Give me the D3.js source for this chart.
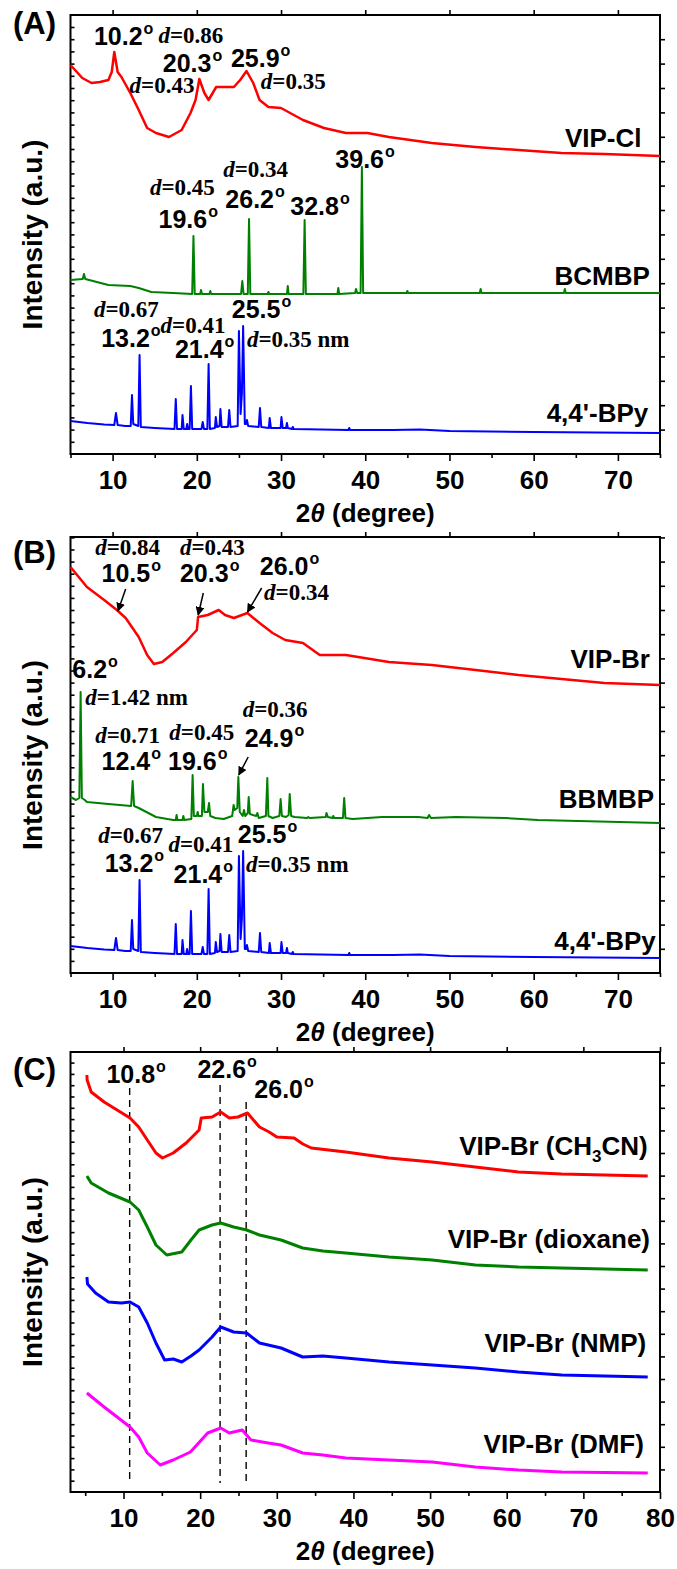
<!DOCTYPE html>
<html lang="en">
<head>
<meta charset="UTF-8" />
<title>XRD patterns</title>
<script src="https://d3js.org/d3.v7.min.js"></script>
<style>
  body { margin: 0; background: #fff; }
  svg text { font-family: 'Liberation Sans', Arial, sans-serif; font-weight: bold; fill: #000; }
  .dlab { font-family: 'Liberation Serif', 'Times New Roman', serif; font-size: 23px; }
  .ang { font-size: 25px; }
  .name { font-size: 26px; }
  .trace { fill: none; stroke-linejoin: round; }
  .frame { fill: none; stroke: #000; stroke-width: 2; }
  .axis path { display: none; }
  .axis line { stroke: #000; stroke-width: 1.6; }
  .axis text { font-size: 26px; }
</style>
</head>
<body>
<svg id="chart" width="677" height="1569"></svg>
<script>
// ---- panel A : VIP-Cl / BCMBP / 4,4'-BPy ----
const vipCl = [[5,389],[6.4,376],[7.5,371],[8.5,372],[9.5,374],[9.9,382],[10.2,402],[10.6,382],[11.05,377],[12.1,361],[13.1,344],[14.1,326],[15.15,321],[16.7,317],[18.2,324],[19.25,341],[19.85,354],[20.3,375],[20.9,361],[21.4,354],[22.3,367],[23.35,367],[24.4,367],[25.15,374],[25.9,383],[26.7,371],[27.45,354],[28.5,347],[30,346],[32.6,334],[35.1,326],[37.7,321],[40.25,321],[42.8,317],[47.9,311],[53.1,307],[58.2,304],[63.3,301],[68.4,300],[75,298]];
const bcmbp = [[5,174],[6.45,175],[6.6,180],[6.75,175],[9.5,169],[12.1,168],[13.1,166],[14.6,162],[17.2,161],[19.45,160],[19.6,218],[19.75,160],[20.4,160],[20.5,164],[20.6,160],[21.5,160],[21.6,163],[21.7,160],[25.25,160],[25.4,173],[25.55,160],[26.05,160],[26.2,235],[26.35,160],[28.4,160],[28.5,162],[28.6,160],[30.7,160],[30.8,168],[30.9,160],[32.65,160],[32.8,234],[32.95,160],[36.7,160],[36.8,166],[36.9,160],[38.8,161],[38.9,165],[39.05,161],[39.45,161],[39.6,287],[39.75,161],[44.9,161],[45,163],[45.1,161],[53.6,161],[53.7,165],[53.8,161],[63.6,161],[63.7,165],[63.8,161],[75,161]];
const bpy = [[5,33],[7,31],[9,29.5],[10.2,29],[10.4,41],[10.6,29],[11.5,28],[12.15,28],[12.3,59],[12.45,30],[13.05,28],[13.2,99],[13.35,27],[15,26],[17.35,25],[17.5,55],[17.65,25],[18.2,25],[18.3,39],[18.45,25],[18.75,25],[18.85,30],[18.95,25],[19.15,25],[19.3,68],[19.45,25],[20.55,25],[20.7,32],[20.85,25],[21.25,25],[21.4,90],[21.55,25],[22.15,26],[22.25,37],[22.4,27],[22.7,28],[22.8,45],[22.95,27],[23.7,27],[23.85,44],[24,27],[24.85,28],[25,123],[25.2,40],[25.35,60],[25.5,128],[25.7,30],[25.85,30],[25.95,34],[26.1,28],[27.35,27],[27.5,46],[27.65,27],[28.55,26],[28.65,36],[28.8,26],[29.95,26],[30.05,37],[30.2,26],[30.6,26],[30.7,31],[30.8,26],[31.3,25],[31.4,27],[31.5,25],[38,24],[38.1,26],[38.2,24],[43.3,24],[46.5,24.5],[50,23],[60,22],[75,21]];
const bpyShiftB = -11;

// ---- panel B : VIP-Br / BBMBP ----
const vipBr = [[5,401],[6.95,381],[9,368],[10.5,358],[11.55,350],[13.1,331],[14.1,313],[14.9,304],[15.9,306],[17.2,315],[18.7,326],[20,338],[20.15,351],[21.3,353],[22.6,358],[23.35,353],[24.4,350],[26,355],[27.45,345],[29,335],[30.5,328],[32.6,325],[34.6,313],[37.7,313],[42.8,306],[47.9,303],[53.1,298],[58.2,293],[63.3,289],[68.4,285],[75,283]];
const bbmbp = [[5,171],[5.65,168],[6.05,170],[6.2,276],[6.35,170],[6.7,168],[6.95,166],[9.5,164],[12.2,162],[12.38,187],[12.55,162],[13.1,160],[15.15,151],[17.2,148],[17.5,148],[17.6,153],[17.7,148],[18.3,148],[18.4,152],[18.5,148],[19.35,149],[19.5,193],[19.65,152],[20,152],[20.1,156],[20.2,152],[20.6,152],[20.73,184],[20.9,156],[21.3,156],[21.45,165],[21.6,152],[22.2,150],[23.2,149],[24.2,152],[24.37,163],[24.5,158],[24.8,160],[24.93,191],[25.1,156],[25.45,152],[25.6,158],[25.75,152],[26.05,155],[26.16,171],[26.3,154],[27.05,152],[27.19,155],[27.35,150],[28.2,152],[28.37,190],[28.5,152],[29,150],[29.8,152],[29.95,169],[30.1,152],[30.6,151],[30.9,153],[31.03,174],[31.2,152],[31.6,151],[33.1,150],[33.23,151],[33.4,150],[35.3,151],[35.4,155],[35.55,151],[36.1,150],[36.2,152],[36.3,150],[37.35,150],[37.5,170],[37.65,150],[38.5,149],[42,151],[44.25,151],[46.3,151],[47.4,150],[47.58,153],[47.8,150],[50.76,151],[56.65,150],[60.5,148],[75,145]];

// ---- panel C : VIP-Br from different solvents ----
const brCH3CN = [[5.22,417],[5.25,412],[5.78,400],[7.47,390],[9.16,382],[10.85,374],[11.98,365],[13.1,352],[14.23,339],[15.07,334],[16.48,339],[18.17,349],[19.86,362],[20.14,374],[21.55,375],[22.68,380],[23.8,374],[24.93,375],[26.17,379],[27.74,365],[29,360],[30,355],[32.25,354],[33.4,348],[34.5,344],[36.75,342],[39,340],[44.64,334],[50.27,330],[55.9,325],[61.53,320],[67.16,318],[72.8,317],[78.4,316]];
const brDioxane = [[5.22,316],[5.78,309],[8.04,299],[10.85,290],[11.98,282],[13.1,265],[14.23,247],[15.64,237],[17.6,240],[18.8,252],[19.86,262],[21.55,267],[22.68,269],[24.37,265],[26.06,262],[27.74,257],[30.56,252],[33.37,244],[36,241],[39,239],[44.64,235],[50.27,232],[55.9,227],[61.53,225],[67.16,224],[78.4,222]];
const brNMP = [[5.22,215],[5.3,208],[6.35,199],[8.04,190],[9.72,189],[10.85,190],[11.98,185],[13.1,169],[14.23,149],[15.36,132],[16.5,133],[17.6,130],[18.8,136],[19.86,142],[21.55,155],[22.68,165],[24.37,160],[26.06,159],[27.74,149],[30.56,144],[33.37,135],[36,136],[39,134],[44.64,130],[50.27,127],[55.9,124],[61.53,120],[67.16,117],[78.4,115]];
const brDMF = [[5.22,99],[7.47,85],[9.16,75],[10.85,65],[11.98,55],[13.1,39],[14.79,27],[16.48,32],[18.73,40],[20.98,59],[22.68,64],[23.8,59],[25.49,62],[26.62,52],[28.87,49],[30.56,47],[33.37,39],[36,37],[39,34],[44.64,32],[50.27,30],[55.9,25],[61.53,22],[67.16,20],[78.4,19]];

// ---- labels: [2theta, intensity, text] ----
const angleLabelsA = [[7.78,409,"10.2"],[15.96,382,"20.3"],[24.05,387,"25.9"],[36.45,286,"39.6"],[15.45,226,"19.6"],[23.39,246,"26.2"],[31.1,239,"32.8"],[8.64,107,"13.2"],[17.4,96,"21.4"],[24.15,136,"25.5"]];
const dLabelsA = [[15.45,411,"0.86"],[12.02,361,"0.43"],[27.6,365,"0.35"],[23.14,277,"0.34"],[14.43,259,"0.45"],[7.78,137,"0.67"],[15.7,121,"0.41"],[25.95,107,"0.35 nm"]];
const namesA = [[72.8,307,"VIP-Cl"],[73.8,169,"BCMBP"],[73.6,32,"4,4'-BPy"]];

const angleLabelsB = [[8.69,386,"10.5"],[18,386,"20.3"],[27.48,393,"26.0"],[5.22,290,"6.2"],[8.69,198,"12.4"],[16.58,198,"19.6"],[25.69,221,"24.9"],[9.06,96,"13.2"],[17.24,85,"21.4"],[24.86,125,"25.5"]];
const dLabelsB = [[7.93,413,"0.84"],[18,413,"0.43"],[27.99,368,"0.34"],[6.76,263,"1.42 nm"],[7.93,225,"0.71"],[16.73,228,"0.45"],[25.44,251,"0.36"],[8.29,125,"0.67"],[16.63,116,"0.41"],[25.84,96,"0.35 nm"]];
const namesB = [[73.8,300,"VIP-Br"],[74.3,160,"BBMBP"],[74.5,18,"4,4'-BPy"]];
const arrowsB = [[11.55,379,10.64,357],[20.77,375,20.16,353],[27.7,380,26.02,356],[26.1,211,24.98,193]];

const angleLabelsC = [[7.77,409,"10.8"],[19.64,414,"22.6"],[27.07,394,"26.0"]];
const guidesC = [[10.8,404],[22.6,407],[26.0,390]];
const namesC = [[78.4,337,"VIP-Br (CH3CN)"],[78.7,244,"VIP-Br (dioxane)"],[78.2,140,"VIP-Br (NMP)"],[77.9,39,"VIP-Br (DMF)"]];

const panels = [
  { tag: "(A)", tagY: 34, top: 15, bottom: 454, xDomain: [5, 75], yDomain: [0, 439], yStep: 12.2,
    major: d3.range(10, 71, 10), minor: d3.range(5, 76, 10),
    series: [[vipCl, "#ff0000", 2.5], [bcmbp, "#008000", 2], [bpy, "#0000ff", 2]],
    angles: angleLabelsA, dlabels: dLabelsA, names: namesA, arrows: [], guides: [] },
  { tag: "(B)", tagY: 563, top: 537, bottom: 973, xDomain: [5, 75], yDomain: [-5, 431], yStep: 12.1,
    major: d3.range(10, 71, 10), minor: d3.range(5, 76, 10),
    series: [[vipBr, "#ff0000", 2.5], [bbmbp, "#008000", 2], [bpy.map(d => [d[0], d[1] + bpyShiftB]), "#0000ff", 2]],
    angles: angleLabelsB, dlabels: dLabelsB, names: namesB, arrows: arrowsB, guides: [] },
  { tag: "(C)", tagY: 1080, top: 1052, bottom: 1492, xDomain: [3.08, 80], yDomain: [0, 440], yStep: 11.3,
    major: d3.range(10, 81, 10), minor: d3.range(5, 76, 10),
    series: [[brCH3CN, "#ff0000", 3], [brDioxane, "#008000", 3], [brNMP, "#0000ff", 3], [brDMF, "#ff00ff", 3]],
    angles: angleLabelsC, dlabels: [], names: namesC, arrows: [], guides: guidesC }
];

const svg = d3.select("#chart");
const left = 70.5, right = 660;

svg.append("defs").append("marker")
  .attr("id", "arrow").attr("viewBox", "0 0 10 10")
  .attr("refX", 9).attr("refY", 5)
  .attr("markerWidth", 6).attr("markerHeight", 6)
  .attr("orient", "auto")
  .append("path").attr("d", "M0,0L10,5L0,10z").attr("fill", "#000");

function drawPanel(p) {
  const x = d3.scaleLinear().domain(p.xDomain).range([left, right]);
  const y = d3.scaleLinear().domain(p.yDomain).range([p.bottom, p.top]);
  const g = svg.append("g");

  // axes
  g.append("g").attr("class", "axis").attr("transform", `translate(0,${p.bottom})`)
    .call(d3.axisBottom(x).tickValues(p.minor).tickSize(4).tickFormat(""));
  g.append("g").attr("class", "axis").attr("transform", `translate(0,${p.bottom})`)
    .call(d3.axisBottom(x).tickValues(p.major).tickSize(7).tickPadding(9.5).tickFormat(d3.format("d")));
  g.append("g").attr("class", "axis").attr("transform", `translate(0,${p.top})`)
    .call(d3.axisTop(x).tickValues(p.major).tickSize(5).tickFormat(""));

  const yt = d3.range(p.yDomain[0] + p.yStep, p.yDomain[1], p.yStep);
  g.append("g").attr("class", "axis").attr("transform", `translate(${left},0)`)
    .call(d3.axisLeft(y).tickValues(yt).tickSize(-4).tickFormat(""));
  g.append("g").attr("class", "axis").attr("transform", `translate(${right},0)`)
    .call(d3.axisRight(y).tickValues(yt.filter((d, i) => i % 2 === 1)).tickSize(5).tickFormat(""));

  g.append("rect").attr("class", "frame")
    .attr("x", left).attr("y", p.top)
    .attr("width", right - left).attr("height", p.bottom - p.top);

  // guides (panel C)
  g.selectAll(".guide").data(p.guides).join("line")
    .attr("x1", d => x(d[0])).attr("x2", d => x(d[0]))
    .attr("y1", d => y(d[1])).attr("y2", y(p.yDomain[0] + 9))
    .attr("stroke", "#000").attr("stroke-width", 1.4).attr("stroke-dasharray", "7,5");

  // traces
  const line = d3.line().x(d => x(d[0])).y(d => y(d[1]));
  p.series.forEach(([data, color, w]) => {
    g.append("path").datum(data).attr("class", "trace")
      .attr("stroke", color).attr("stroke-width", w).attr("d", line);
  });

  // arrows
  g.selectAll(".arr").data(p.arrows).join("line")
    .attr("x1", d => x(d[0])).attr("y1", d => y(d[1]))
    .attr("x2", d => x(d[2])).attr("y2", d => y(d[3]))
    .attr("stroke", "#000").attr("stroke-width", 1.5)
    .attr("marker-end", "url(#arrow)");

  // angle labels with superscript o
  p.angles.forEach(([a, v, t]) => {
    const tx = g.append("text").attr("class", "ang").attr("x", x(a)).attr("y", y(v));
    tx.append("tspan").text(t);
    tx.append("tspan").attr("font-size", 16).attr("dy", -11).attr("dx", 1).text("o");
  });

  // d-spacing labels
  p.dlabels.forEach(([a, v, t]) => {
    const tx = g.append("text").attr("class", "dlab").attr("x", x(a)).attr("y", y(v));
    tx.append("tspan").attr("font-style", "italic").text("d");
    tx.append("tspan").text("=" + t);
  });

  // sample names (right aligned), digit in CH3CN as subscript
  p.names.forEach(([a, v, t]) => {
    const tx = g.append("text").attr("class", "name").attr("x", x(a)).attr("y", y(v))
      .attr("text-anchor", "end");
    const m = t.match(/^(.*CH)(\d)(CN\))$/);
    if (m) {
      tx.append("tspan").text(m[1]);
      tx.append("tspan").attr("font-size", 17).attr("dy", 7).text(m[2]);
      tx.append("tspan").attr("dy", -7).text(m[3]);
    } else {
      tx.text(t);
    }
  });

  // panel tag
  svg.append("text").attr("x", 13).attr("y", p.tagY).attr("font-size", 31).text(p.tag);

  // axis titles
  const xt = svg.append("text").attr("x", (left + right) / 2).attr("y", p.bottom + 68)
    .attr("text-anchor", "middle").attr("font-size", 26);
  xt.append("tspan").text("2");
  xt.append("tspan").attr("font-style", "italic").text("\u03b8");
  xt.append("tspan").text(" (degree)");

  svg.append("text")
    .attr("transform", `translate(42,${(p.top + p.bottom) / 2}) rotate(-90)`)
    .attr("text-anchor", "middle").attr("font-size", 28)
    .text("Intensity (a.u.)");
}

panels.forEach(drawPanel);
</script>
</body>
</html>
